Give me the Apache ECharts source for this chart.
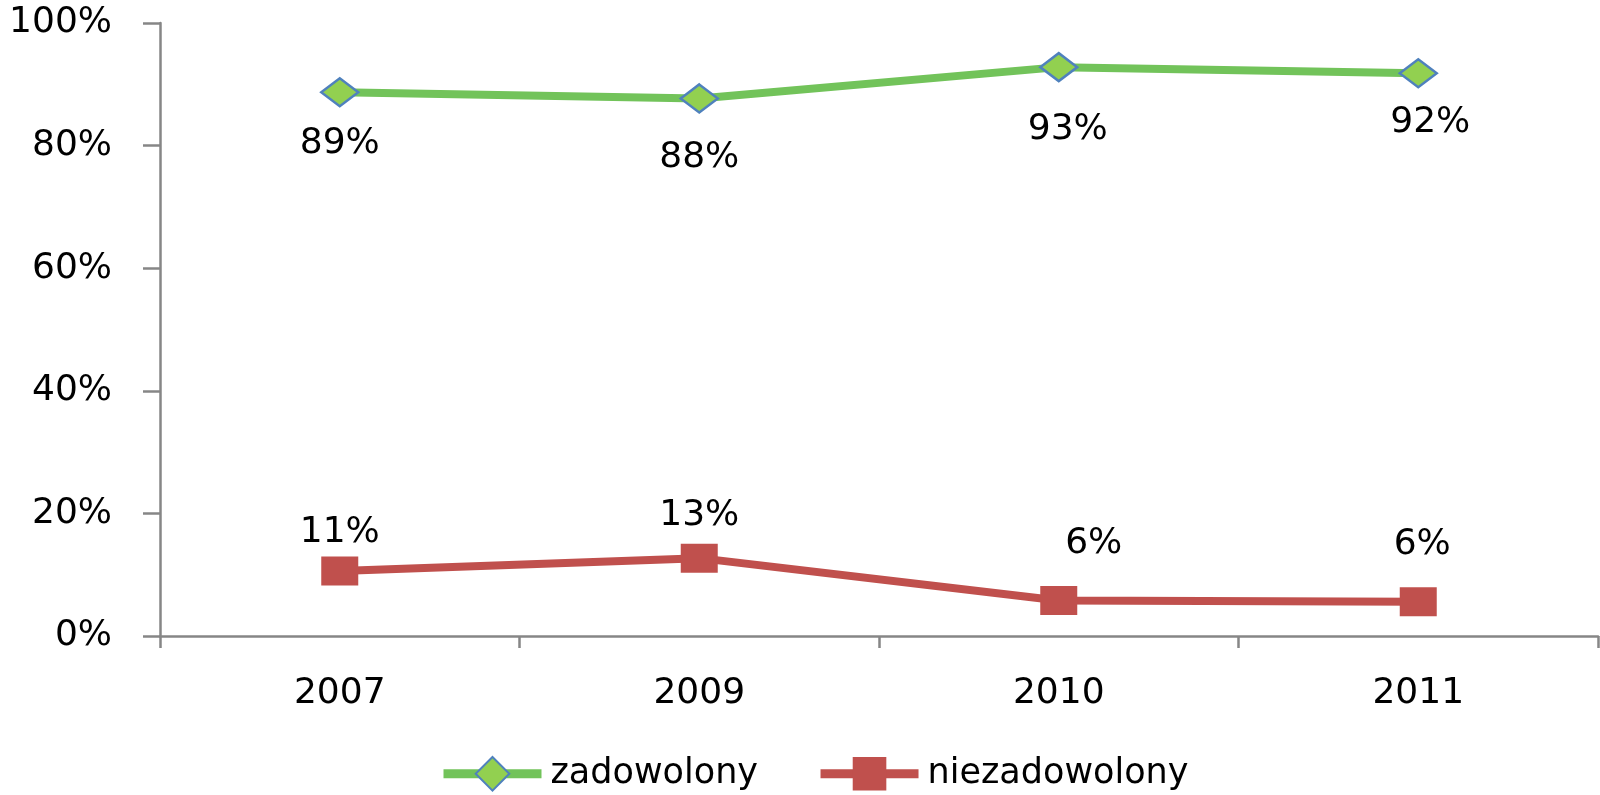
<!DOCTYPE html>
<html>
<head>
<meta charset="utf-8">
<script src="https://cdn.jsdelivr.net/npm/echarts@6/dist/echarts.min.js"></script>
<style>html,body{margin:0;padding:0;background:#fff}#c{width:1600px;height:795px}</style>
</head>
<body>
<div id="c"></div>
<script>
const categories = ['2007', '2009', '2010', '2011'];
const zadowolony = [0.887, 0.877, 0.928, 0.918];
const niezadowolony = [0.106, 0.127, 0.058, 0.056];
const seriesNames = ['zadowolony', 'niezadowolony'];

// label nudges (style only)
const greenLabelOffsets = [[0, 51], [0, 59], [9, 63], [12, 49]];
const redLabelOffsets = [[0, -38], [0, -43], [35, -57], [4, -57]];

const pct = v => Math.round(v * 100) + '%';
const labelFont = { fontFamily: 'DejaVu Sans', fontSize: 36, color: '#000' };

function build(values, offs) {
  return values.map((v, i) => ({ value: v, label: { offset: offs[i] } }));
}

const chart = echarts.init(document.getElementById('c'));
chart.setOption({
  animation: false,
  grid: { left: 160, right: 2, top: 23, bottom: 159, containLabel: false },
  legend: {
    left: 434, top: 751,
    itemWidth: 98, itemHeight: 42, itemGap: 58,
    lineStyle: { width: 9 },
    textStyle: { fontFamily: 'DejaVu Sans', fontSize: 35, color: '#000', padding: [0, 0, 0, 4] },
    data: seriesNames
  },
  xAxis: {
    type: 'category', data: categories, boundaryGap: true,
    axisLine: { lineStyle: { color: '#868686', width: 2.5 } },
    axisTick: { show: true, length: 12, lineStyle: { color: '#868686', width: 2.5 } },
    axisLabel: { margin: 40, ...labelFont }
  },
  yAxis: {
    type: 'value', min: 0, max: 1, interval: 0.2,
    splitLine: { show: false },
    axisLine: { show: true, lineStyle: { color: '#868686', width: 2.5 } },
    axisTick: { show: true, length: 17, lineStyle: { color: '#868686', width: 2.5 } },
    axisLabel: { margin: 48, formatter: v => pct(v), ...labelFont }
  },
  series: [
    {
      name: seriesNames[0], type: 'line',
      data: build(zadowolony, greenLabelOffsets),
      symbol: 'diamond', symbolSize: [37, 28],
      lineStyle: { color: '#72c35a', width: 8 },
      itemStyle: { color: '#92d050', borderColor: '#4f81bd', borderWidth: 2.5 },
      label: { show: true, position: 'inside', formatter: p => pct(p.value), ...labelFont }
    },
    {
      name: seriesNames[1], type: 'line',
      data: build(niezadowolony, redLabelOffsets),
      symbol: 'rect', symbolSize: [37, 29],
      lineStyle: { color: '#c0504d', width: 8 },
      itemStyle: { color: '#c0504d', borderColor: '#c0504d', borderWidth: 0 },
      label: { show: true, position: 'inside', formatter: p => pct(p.value), ...labelFont }
    }
  ]
});
</script>
</body>
</html>
